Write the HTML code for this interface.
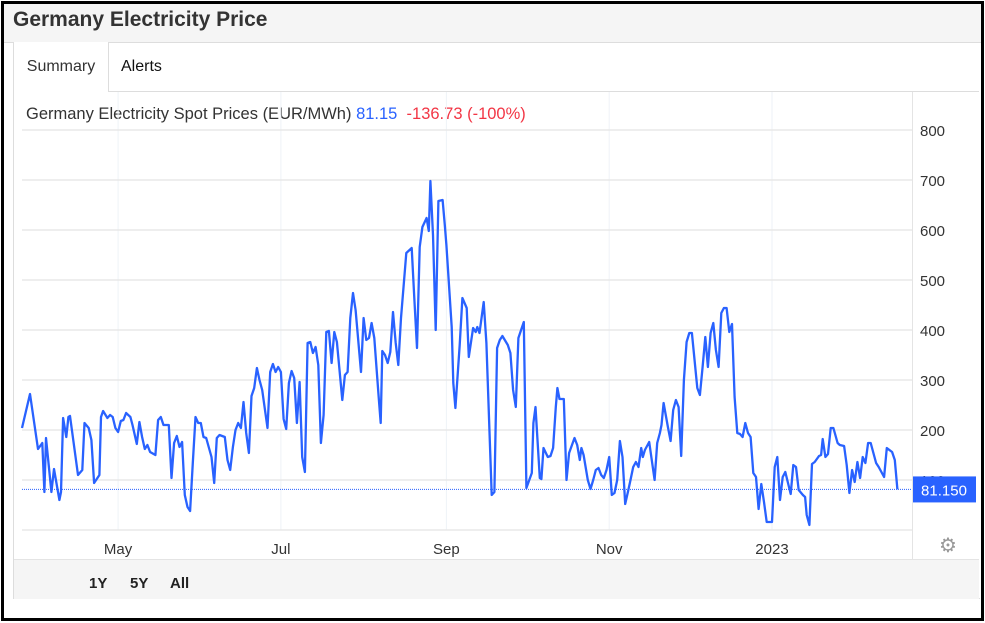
<!DOCTYPE html>
<html><head><meta charset="utf-8"><style>
body{margin:0;width:985px;height:623px;background:#fff;font-family:"Liberation Sans",sans-serif;overflow:hidden;position:relative}
.abs{position:absolute}
</style></head><body>
<div class="abs" style="left:1px;top:1px;width:977px;height:614px;border:3px solid #000"></div>
<div class="abs" style="left:4px;top:4px;width:977px;height:38px;background:#f5f5f5;border-bottom:1px solid #ddd"></div>
<div class="abs" style="left:13px;top:8px;font-size:21px;font-weight:bold;color:#333">Germany Electricity Price</div>
<div class="abs" style="left:13px;top:42px;width:966px;height:556px;border-left:1px solid #ddd;border-bottom:1px solid #ddd"></div>
<div class="abs" style="left:14px;top:91px;width:965px;height:1px;background:#ddd"></div>
<div class="abs" style="left:14px;top:42px;width:94px;height:50px;background:#fff;border-right:1px solid #ddd;font-size:16px;color:#333;line-height:50px;text-align:center">Summary</div>
<div class="abs" style="left:121px;top:42px;height:50px;font-size:16px;color:#111;line-height:50px">Alerts</div>
<div class="abs" style="left:14px;top:559px;width:965px;height:39px;background:#f5f5f5;border-top:1px solid #e4e4e4"></div>
<div class="abs" style="left:89px;top:575px;font-size:15px;font-weight:bold;color:#222">1Y</div>
<div class="abs" style="left:130px;top:575px;font-size:15px;font-weight:bold;color:#222">5Y</div>
<div class="abs" style="left:170px;top:575px;font-size:15px;font-weight:bold;color:#222">All</div>
<div class="abs" style="left:26px;top:105px;font-size:16.5px;color:#333;white-space:nowrap">Germany Electricity Spot Prices (EUR/MWh) <span style="color:#2962ff">81.15</span> &nbsp;<span style="color:#f23645">-136.73 (-100%)</span></div>
<svg class="abs" style="left:0;top:0" width="985" height="623">
<g id="grid"></g><g id="axes"></g><g id="series"></g>
<text x="948" y="552" font-size="20" fill="#999" text-anchor="middle">⚙</text>
</svg>
<script>
const days=[0,3,6,7.6,8.4,9,11,12,14,14.6,15.4,16.6,17.4,18,21,22.6,23.4,25,26,27,29,29.6,30.4,32,33,34,35,36,37,38,39,40.6,41.4,43,44,45,46,47,48,50,51,52,53,55,56,57,58,59,60,61,62,63,64,65,66,67,68,69,71,72,73,74,76,77,78,79,80,81,82,83,84,85,86,87,88,89,90,92,93,94,95,96,97,98,99,100,101,102,103,104,105,106,107,108,109,110,111,112,113,114,115,116,117,118,120,121,122,123,124,125,127,128,129,130,131,132,133.6,134.4,135,136,137,138,139,140,141,142,144,146,147,148,149,150,151.6,152.4,153,154,155,156,157.6,158.4,159,161,161.6,162.4,164,165,166.6,167.4,169,170,170.6,171.4,173,174,176,177,178,179,180,182,183,184,185,186,188,189,191,191.6,192.4,194,194.6,195.4,197,198,199,200,200.6,201.4,203,204,205,207,208,209,209.6,210.4,212,213,214,215,216,217,218,219,220,221,222,223,224,225,226,227,228,229,230,231,232,232.6,233.4,235,237,238,239,239.6,240.4,242,243,244,245,246,247,248,249,250,251,253,254,255,256,257,258,259,260,261,262,263,264,265,266,267,268,269,270,271,272,273,274,275,276,277,278,279,281,282,283,284,285,286,288,289,290,291,292.6,293.4,294,295,296,297,298.6,299.4,300,301,302,303,304,305.6,306.4,308,309,310,311,312,313,314,315,316,317,318,320,321,323,324,326,327,328];
const prices=[204,272,162,174,76,184,76,122,60,76,224,186,226,228,110,120,214,204,180,94,110,226,238,224,230,226,204,196,218,220,234,226,210,172,216,186,162,170,156,150,220,226,210,210,104,174,188,166,176,70,46,38,134,226,214,214,186,184,146,94,184,190,186,140,120,166,200,214,204,256,194,154,268,284,324,300,280,204,316,332,316,326,316,222,202,294,318,304,214,296,146,116,374,376,354,366,330,174,230,396,398,334,396,376,260,310,316,424,474,440,316,424,380,384,414,384,268,214,358,350,334,356,436,374,330,424,554,564,464,364,566,606,624,598,698,590,400,658,660,610,570,406,294,244,370,464,444,346,404,396,406,394,456,374,70,76,364,380,388,370,354,280,246,384,416,84,114,214,246,104,102,164,146,148,164,246,284,262,262,100,154,184,170,140,164,150,100,82,100,120,124,110,104,120,146,70,74,100,178,146,52,76,100,126,136,126,164,146,160,176,100,174,194,210,254,206,178,240,260,246,148,300,376,394,394,284,270,326,386,326,394,414,360,326,434,444,444,396,412,266,194,192,186,214,194,186,114,106,42,92,56,16,16,126,146,60,106,116,72,130,126,80,70,66,30,10,132,136,148,150,182,146,152,204,204,174,170,168,130,74,120,96,136,104,146,134,174,174,134,126,106,164,156,140,81.15];
const yTicks=[100,200,300,400,500,600,700,800];
const xTickLabels=["May","Jul","Sep","Nov","2023"];
const xTickDays=[36,97,159,220,281];
const lastValue="81.150";
const NS="http://www.w3.org/2000/svg";
function X(d){return 22+d*2.669;}
function Y(v){return 530-v*0.5;}
function mk(tag,attrs,parent){const e=document.createElementNS(NS,tag);for(const k in attrs)e.setAttribute(k,attrs[k]);document.getElementById(parent).appendChild(e);return e;}
xTickDays.forEach((d,i)=>{const l=mk('line',{x1:X(d),x2:X(d),y1:92,y2:530,stroke:'#eef2f7','stroke-width':1},'grid');


const t=mk('text',{x:X(d),y:554,'font-size':15,fill:'#333','text-anchor':'middle'},'axes');t.textContent=xTickLabels[i];

});
[0].concat(yTicks).forEach(v=>{const l=mk('line',{x1:22,x2:912,y1:Y(v),y2:Y(v),stroke:'#e8e8e8','stroke-width':1.5},'grid');

});
yTicks.forEach(v=>{const t=mk('text',{x:920,y:Y(v)+6,'font-size':15,fill:'#333'},'axes');t.textContent=v;

});
mk('line',{x1:912.5,x2:912.5,y1:92,y2:559,stroke:'#e4e4e4'},'axes');
let dstr=days.map((d,i)=>(i?'L':'M')+X(d).toFixed(1)+','+Y(prices[i]).toFixed(1)).join(' ');
const p=mk('path',{d:dstr,fill:'none',stroke:'#2962ff','stroke-width':2.3,'stroke-linejoin':'round'},'series');


const lv=prices[prices.length-1];
const ll=mk('line',{x1:22,x2:912,y1:Y(lv),y2:Y(lv),stroke:'#2962ff','stroke-width':1,'stroke-dasharray':'1,1'},'series');


const r=mk('rect',{x:913,y:Y(lv)-13,width:63,height:26,fill:'#2962ff'},'series');


const lt=mk('text',{x:944,y:Y(lv)+6,'font-size':15,fill:'#fff','text-anchor':'middle'},'series');lt.textContent=lastValue;


</script>
</body></html>
